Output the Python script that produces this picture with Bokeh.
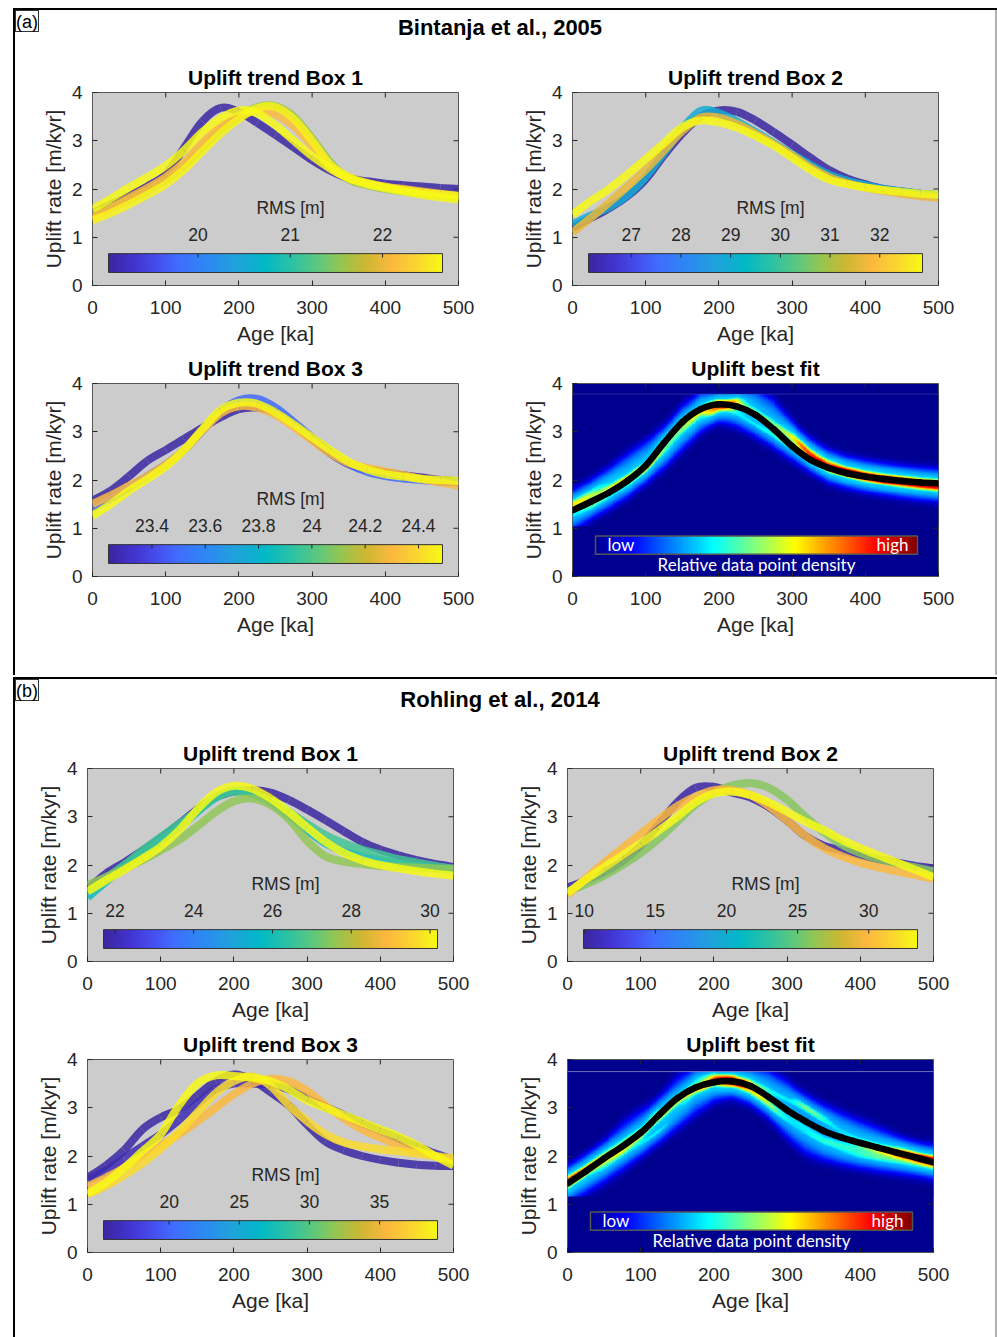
import numpy as np
from bokeh.plotting import figure
from bokeh.models import Range1d, FixedTicker, LinearColorMapper, Div, Span, Spacer
from bokeh.layouts import row, column
from bokeh.embed import file_html
from bokeh.resources import INLINE
from bokeh.core.properties import value

# ---------------- data ----------------
AGE = [0, 25, 50, 75, 100, 125, 150, 175, 200, 225, 250, 275, 300, 325, 350, 375, 400, 425, 450, 475, 500]
X_TICKS = [0, 100, 200, 300, 400, 500]
Y_TICKS = [0, 1, 2, 3, 4]

# (a) Bintanja et al., 2005 -- Box 1
A1_RMS_LIM = [19.03, 22.65]
A1_RMS_TICKS = [20, 21, 22]
A1_RMS = [19.05, 21.56, 22.14, 22.60, 22.65]
A1_C1 = [1.50, 1.68, 1.86, 2.06, 2.30, 2.85, 3.40, 3.68, 3.60, 3.37, 3.12, 2.86, 2.60, 2.38, 2.22, 2.16, 2.11, 2.08, 2.05, 2.02, 2.00]
A1_C2 = [1.48, 1.62, 1.78, 1.97, 2.20, 2.48, 2.85, 3.22, 3.50, 3.70, 3.72, 3.50, 3.05, 2.55, 2.20, 2.08, 2.00, 1.95, 1.90, 1.86, 1.82]
A1_C3 = [1.40, 1.60, 1.82, 2.02, 2.25, 2.55, 2.95, 3.30, 3.52, 3.62, 3.55, 3.30, 2.90, 2.45, 2.22, 2.12, 2.05, 2.00, 1.95, 1.90, 1.85]
A1_C4 = [1.35, 1.50, 1.68, 1.88, 2.10, 2.40, 2.78, 3.15, 3.45, 3.68, 3.70, 3.45, 3.00, 2.50, 2.25, 2.12, 2.04, 1.98, 1.93, 1.89, 1.86]
A1_C5 = [1.58, 1.80, 2.03, 2.25, 2.48, 2.80, 3.18, 3.47, 3.63, 3.57, 3.32, 3.00, 2.68, 2.42, 2.22, 2.10, 2.02, 1.95, 1.88, 1.83, 1.78]

# (a) Box 2
A2_RMS_LIM = [26.14, 32.86]
A2_RMS_TICKS = [27, 28, 29, 30, 31, 32]
A2_RMS = [26.15, 28.96, 31.65, 32.85]
A2_C1 = [1.20, 1.40, 1.60, 1.85, 2.20, 2.70, 3.15, 3.50, 3.63, 3.60, 3.42, 3.18, 2.92, 2.65, 2.40, 2.22, 2.10, 2.00, 1.95, 1.90, 1.87]
A2_C2 = [1.27, 1.45, 1.62, 1.87, 2.25, 2.75, 3.25, 3.62, 3.57, 3.40, 3.18, 2.95, 2.72, 2.50, 2.30, 2.17, 2.08, 2.00, 1.95, 1.90, 1.87]
A2_C3 = [1.10, 1.40, 1.72, 2.05, 2.40, 2.80, 3.20, 3.48, 3.48, 3.35, 3.15, 2.93, 2.70, 2.45, 2.25, 2.12, 2.03, 1.96, 1.90, 1.85, 1.82]
A2_C4 = [1.47, 1.75, 2.00, 2.30, 2.62, 2.95, 3.28, 3.42, 3.38, 3.27, 3.10, 2.90, 2.65, 2.40, 2.20, 2.10, 2.03, 1.98, 1.94, 1.90, 1.88]

# (a) Box 3
A3_RMS_LIM = [23.237, 24.49]
A3_RMS_TICKS = [23.4, 23.6, 23.8, 24.0, 24.2, 24.4]
A3_RMS = [23.24, 23.49, 24.30, 24.49]
A3_C1 = [1.57, 1.78, 2.08, 2.40, 2.62, 2.85, 3.08, 3.30, 3.47, 3.50, 3.40, 3.15, 2.85, 2.55, 2.33, 2.22, 2.15, 2.10, 2.05, 2.00, 1.97]
A3_C2 = [1.42, 1.62, 1.85, 2.08, 2.32, 2.62, 3.02, 3.42, 3.65, 3.68, 3.50, 3.20, 2.88, 2.58, 2.33, 2.17, 2.08, 2.03, 2.00, 1.97, 1.95]
A3_C3 = [1.50, 1.68, 1.88, 2.08, 2.32, 2.62, 3.02, 3.38, 3.53, 3.50, 3.35, 3.10, 2.82, 2.55, 2.35, 2.25, 2.18, 2.10, 2.02, 1.95, 1.88]
A3_C4 = [1.26, 1.50, 1.78, 2.02, 2.28, 2.62, 3.05, 3.45, 3.60, 3.58, 3.40, 3.15, 2.88, 2.62, 2.38, 2.22, 2.12, 2.07, 2.02, 2.00, 1.98]

# (a) best fit
A_BEST = [1.37, 1.55, 1.74, 1.98, 2.30, 2.77, 3.20, 3.47, 3.57, 3.52, 3.35, 3.05, 2.70, 2.42, 2.25, 2.14, 2.07, 2.02, 1.98, 1.95, 1.93]
A_DENS_YLIM = [1.04, 3.78]

# (b) Rohling et al., 2014 -- Box 1
B1_RMS_LIM = [21.71, 30.19]
B1_RMS_TICKS = [22, 24, 26, 28, 30]
B1_RMS = [21.72, 25.95, 26.63, 27.56, 30.19]
B1_C1 = [1.50, 1.82, 2.05, 2.30, 2.55, 2.85, 3.15, 3.40, 3.52, 3.55, 3.50, 3.35, 3.15, 2.93, 2.70, 2.48, 2.32, 2.20, 2.10, 2.02, 1.96]
B1_C2 = [1.33, 1.65, 1.95, 2.25, 2.50, 2.78, 3.10, 3.40, 3.55, 3.48, 3.30, 3.02, 2.72, 2.45, 2.28, 2.18, 2.10, 2.03, 1.98, 1.93, 1.90]
B1_C3 = [1.45, 1.72, 2.00, 2.30, 2.58, 2.85, 3.12, 3.40, 3.52, 3.48, 3.32, 3.10, 2.85, 2.62, 2.45, 2.32, 2.22, 2.12, 2.05, 1.98, 1.92]
B1_C4 = [1.58, 1.75, 1.92, 2.10, 2.30, 2.52, 2.80, 3.10, 3.32, 3.38, 3.25, 2.95, 2.50, 2.18, 2.07, 2.02, 1.98, 1.96, 1.95, 1.93, 1.92]
B1_C5 = [1.45, 1.68, 1.90, 2.13, 2.38, 2.72, 3.15, 3.50, 3.64, 3.58, 3.38, 3.10, 2.78, 2.48, 2.25, 2.10, 2.00, 1.93, 1.87, 1.82, 1.78]

# (b) Box 2
B2_RMS_LIM = [9.95, 33.43]
B2_RMS_TICKS = [10, 15, 20, 25, 30]
B2_RMS = [10.1, 25.9, 29.9, 33.4]
B2_C1 = [1.53, 1.68, 1.85, 2.08, 2.40, 2.85, 3.30, 3.60, 3.62, 3.50, 3.40, 3.20, 2.92, 2.60, 2.40, 2.30, 2.20, 2.12, 2.05, 1.98, 1.93]
B2_C2 = [1.45, 1.60, 1.78, 2.00, 2.25, 2.55, 2.90, 3.25, 3.50, 3.65, 3.70, 3.60, 3.35, 3.00, 2.68, 2.42, 2.25, 2.12, 2.03, 1.95, 1.87]
B2_C3 = [1.38, 1.72, 2.05, 2.35, 2.65, 2.95, 3.22, 3.42, 3.55, 3.55, 3.45, 3.22, 2.92, 2.60, 2.35, 2.18, 2.05, 1.95, 1.87, 1.79, 1.72]
B2_C4 = [1.42, 1.70, 1.95, 2.20, 2.45, 2.72, 3.00, 3.30, 3.48, 3.52, 3.45, 3.30, 3.10, 2.90, 2.72, 2.52, 2.35, 2.20, 2.05, 1.90, 1.75]

# (b) Box 3
B3_RMS_LIM = [15.32, 39.13]
B3_RMS_TICKS = [20, 25, 30, 35]
B3_RMS = [15.4, 16.0, 35.6, 37.5, 39.1]
B3_C1 = [1.55, 1.80, 2.12, 2.55, 2.80, 2.97, 3.25, 3.55, 3.69, 3.58, 3.32, 3.05, 2.65, 2.30, 2.12, 2.00, 1.92, 1.86, 1.82, 1.80, 1.79]
B3_C2 = [1.50, 1.70, 1.95, 2.20, 2.45, 2.75, 3.08, 3.38, 3.50, 3.50, 3.48, 3.38, 3.20, 3.02, 2.85, 2.68, 2.52, 2.36, 2.20, 2.05, 1.92]
B3_C3 = [1.37, 1.55, 1.75, 2.00, 2.22, 2.45, 2.72, 3.00, 3.28, 3.50, 3.60, 3.55, 3.35, 3.05, 2.78, 2.55, 2.38, 2.22, 2.10, 2.00, 1.90]
B3_C4 = [1.20, 1.38, 1.60, 1.85, 2.15, 2.50, 2.90, 3.30, 3.55, 3.65, 3.45, 3.05, 2.72, 2.45, 2.28, 2.20, 2.14, 2.10, 2.05, 2.00, 1.95]
B3_C5 = [1.22, 1.45, 1.75, 2.10, 2.45, 3.05, 3.50, 3.67, 3.66, 3.62, 3.55, 3.38, 3.15, 3.00, 2.85, 2.70, 2.55, 2.40, 2.22, 2.00, 1.80]

# (b) best fit
B_BEST = [1.43, 1.68, 1.95, 2.20, 2.48, 2.85, 3.20, 3.42, 3.53, 3.55, 3.45, 3.22, 2.95, 2.72, 2.52, 2.38, 2.27, 2.17, 2.07, 1.97, 1.87]
B_DENS_YLIM = [1.16, 3.75]

# ---------------- palettes ----------------
def make_palette(keys, n=256):
    ts = [k[0] for k in keys]
    rgb = np.array([[int(k[1][i:i + 2], 16) for i in (1, 3, 5)] for k in keys], dtype=float)
    out = []
    for t in np.linspace(0, 1, n):
        c = [int(round(np.interp(t, ts, rgb[:, j]))) for j in range(3)]
        out.append("#%02x%02x%02x" % tuple(c))
    return out

PARULA = make_palette([
    (0.00, "#3a26a0"), (0.08, "#4334d2"), (0.15, "#4650f0"), (0.21, "#3f6eff"),
    (0.30, "#2c8af2"), (0.38, "#20a2dc"), (0.47, "#02b9c6"), (0.55, "#2cc2a4"),
    (0.63, "#5ec87c"), (0.70, "#98c550"), (0.77, "#cdb733"), (0.85, "#fcb83e"),
    (0.91, "#fbcf33"), (1.00, "#f7f916")])
JET = make_palette([
    (0.0, "#00008f"), (0.111, "#0000ff"), (0.365, "#00ffff"), (0.619, "#ffff00"),
    (0.873, "#ff0000"), (1.0, "#800000")])

FONT = "Liberation Sans"
TXT = "#262626"
CB_Y = [0.27, 0.66]
FRAME_W, FRAME_H = 366, 193
TICK_LEN = 5  # px


def pal_color(v, lim):
    t = (v - lim[0]) / (lim[1] - lim[0])
    return PARULA[int(round(min(max(t, 0), 1) * 255))]


def smooth_curve(p, xs, ys, **kw):
    """Draw a curve through the listed points as a smooth (Catmull-Rom) spline."""
    P = np.column_stack([xs, ys]).astype(float)
    Q = np.vstack([P[0], P, P[-1]])
    p0, p1, p2, p3 = Q[:-3], Q[1:-2], Q[2:-1], Q[3:]
    c0 = p1 + (p2 - p0) / 6.0
    c1 = p2 - (p3 - p1) / 6.0
    p.bezier(x0=p1[:, 0], y0=p1[:, 1], x1=p2[:, 0], y1=p2[:, 1],
             cx0=c0[:, 0], cy0=c0[:, 1], cx1=c1[:, 0], cy1=c1[:, 1], **kw)


def make_fig(title, left, right, bg="#cccccc"):
    p = figure(frame_width=FRAME_W, frame_height=FRAME_H,
               min_border_left=left, min_border_right=right,
               min_border_top=31, min_border_bottom=66,
               x_range=Range1d(0, 500), y_range=Range1d(0, 4),
               output_backend="svg", toolbar_location=None,
               background_fill_color=bg, border_fill_color="white",
               outline_line_color="#555555", outline_line_width=1, title=title)
    p.title.align = "center"
    p.title.text_font = FONT
    p.title.text_font_size = "21px"
    p.title.text_font_style = "bold"
    p.title.text_color = "black"
    p.title.standoff = 7
    p.xgrid.visible = False
    p.ygrid.visible = False
    p.xaxis.ticker = FixedTicker(ticks=X_TICKS)
    p.yaxis.ticker = FixedTicker(ticks=Y_TICKS)
    p.xaxis.axis_label = "Age [ka]"
    p.yaxis.axis_label = "Uplift rate [m/kyr]"
    for ax in (p.xaxis[0], p.yaxis[0]):
        ax.axis_line_color = None
        ax.major_tick_in = TICK_LEN
        ax.major_tick_out = 0
        ax.major_tick_line_color = TXT
        ax.minor_tick_line_color = None
        ax.major_label_text_font = FONT
        ax.major_label_text_font_size = "19px"
        ax.major_label_text_color = TXT
        ax.axis_label_text_font = FONT
        ax.axis_label_text_font_size = "21px"
        ax.axis_label_text_font_style = "normal"
        ax.axis_label_text_color = TXT
    p.xaxis.major_label_standoff = 15
    p.xaxis.axis_label_standoff = 5
    p.yaxis.major_label_standoff = 10
    p.yaxis.axis_label_standoff = 4
    # mirrored ticks on the top and right edges of the box
    dy = TICK_LEN * 4.0 / FRAME_H
    dx = TICK_LEN * 500.0 / FRAME_W
    xt = X_TICKS[1:-1]
    yt = Y_TICKS[1:-1]
    p.segment(x0=xt, x1=xt, y0=[4] * len(xt), y1=[4 - dy] * len(xt), line_color=TXT, line_width=1)
    p.segment(x0=[500] * len(yt), x1=[500 - dx] * len(yt), y0=yt, y1=yt, line_color=TXT, line_width=1)
    return p


def trend_panel(title, left, right, lim, ticks, rms, curves):
    p = make_fig(title, left, right)
    for r, c in zip(rms, curves):
        smooth_curve(p, AGE, c, line_color=pal_color(r, lim), line_width=8, line_alpha=0.85,
                     line_cap="butt")
    lo, hi = lim
    sc = (hi - lo) / 334.0
    p.extra_x_ranges = {"rms": Range1d(lo - 16 * sc, hi + 16 * sc)}
    grad = np.linspace(lo, hi, 256)[None, :]
    p.image(image=[grad], x=lo, y=CB_Y[0], dw=hi - lo, dh=CB_Y[1] - CB_Y[0],
            color_mapper=LinearColorMapper(palette=PARULA, low=lo, high=hi),
            x_range_name="rms")
    p.quad(left=[lo], right=[hi], bottom=[CB_Y[0]], top=[CB_Y[1]], fill_color=None,
           line_color="#333333", line_width=1, x_range_name="rms")
    n = len(ticks)
    p.segment(x0=ticks, x1=ticks, y0=[CB_Y[1]] * n, y1=[CB_Y[1] - 0.08] * n,
              line_color=TXT, line_width=1, x_range_name="rms")
    p.text(x=ticks, y=[1.06] * n, text=["%g" % t for t in ticks],
           text_font=value(FONT), text_font_size="17.5px", text_color=TXT,
           text_align="center", text_baseline="middle", x_range_name="rms")
    p.text(x=[(lo + hi) / 2 + 15 * sc], y=[1.6], text=["RMS [m]"],
           text_font=value(FONT), text_font_size="17.5px", text_color=TXT,
           text_align="center", text_baseline="middle", x_range_name="rms")
    return p


def kde(curves, xs, ys, s):
    d = np.zeros((len(ys), len(xs)))
    for c in curves:
        yc = np.interp(xs, AGE, c)
        d += np.exp(-0.5 * ((ys[:, None] - yc[None, :]) / s) ** 2)
    return d / d.max()


def density(curves, ylim, nx=250, ny=280):
    xs = np.linspace(0, 500, nx)
    ys = np.linspace(ylim[0], ylim[1], ny)
    broad = kde(curves, xs, ys, 0.14)    # overall spread of the trends
    narrow = kde(curves, xs, ys, 0.07)   # places where the trends pile up
    hot = np.clip((narrow - 0.3) / 0.5, 0, 1)
    return 0.33 * (1.0 - np.exp(-broad / 0.2)) + 0.55 * hot


def best_panel(left, right, best, curves, ylim, edge_alpha):
    p = make_fig("Uplift best fit", left, right, bg=JET[0])
    d = density(curves, ylim)
    p.image(image=[d], x=0, y=ylim[0], dw=500, dh=ylim[1] - ylim[0],
            color_mapper=LinearColorMapper(palette=JET, low=0, high=1))
    p.add_layout(Span(location=ylim[1], dimension="width", line_color="#a0a0c0",
                      line_width=1, line_alpha=edge_alpha))
    smooth_curve(p, AGE, best, line_color="black", line_width=6.5, line_cap="round")
    p.extra_x_ranges = {"dens": Range1d(-23 / 322.0, 1 + 21 / 322.0)}
    grad = np.linspace(0, 1, 256)[None, :]
    p.image(image=[grad], x=0, y=0.46, dw=1, dh=0.38,
            color_mapper=LinearColorMapper(palette=JET, low=0, high=1), x_range_name="dens")
    p.quad(left=[0], right=[1], bottom=[0.46], top=[0.84], fill_color=None,
           line_color="#555555", line_width=1.5, x_range_name="dens")
    p.text(x=[0.037], y=[0.66], text=["low"], text_font=value("Lato"), text_font_size="17px",
           text_color="white", text_align="left", text_baseline="middle", x_range_name="dens")
    p.text(x=[0.972], y=[0.66], text=["high"], text_font=value("Lato"), text_font_size="17px",
           text_color="white", text_align="right", text_baseline="middle", x_range_name="dens")
    p.text(x=[0.5], y=[0.24], text=["Relative data point density"], text_font=value("Lato"),
           text_font_size="17px", text_color="white", text_align="center",
           text_baseline="middle", x_range_name="dens")
    return p


def header(label, title, height, title_top):
    html = ('<div style="position:relative;width:980px;height:%dpx;">'
            '<div style="position:absolute;left:0px;top:0px;width:24px;height:22px;'
            'border:1px solid #333;font-family:\'Liberation Sans\';font-size:18px;'
            'line-height:22px;text-align:center;color:#000;">%s</div>'
            '<div style="position:absolute;left:0px;top:%dpx;width:970px;text-align:center;'
            'font-family:\'Liberation Sans\';font-size:22px;font-weight:bold;line-height:26px;'
            'color:#000;">%s</div></div>') % (height, label, title_top, title)
    return Div(text=html, width=980, height=height, margin=0)


def hline(w):
    return Div(text="", width=w, height=2, margin=0, styles={"background-color": "#000000"})


def vline(h, color="#000000"):
    return Div(text="", width=2, height=h, margin=0, styles={"background-color": color})


# ---------------- section (a) ----------------
A_CURVES = [A1_C1, A1_C2, A1_C3, A1_C4, A1_C5, A2_C1, A2_C2, A2_C3, A2_C4, A3_C1, A3_C2, A3_C3, A3_C4]
pa1 = trend_panel("Uplift trend Box 1", 77, 37, A1_RMS_LIM, A1_RMS_TICKS, A1_RMS,
                  [A1_C1, A1_C2, A1_C3, A1_C4, A1_C5])
pa2 = trend_panel("Uplift trend Box 2", 77, 57, A2_RMS_LIM, A2_RMS_TICKS, A2_RMS,
                  [A2_C1, A2_C2, A2_C3, A2_C4])
pa3 = trend_panel("Uplift trend Box 3", 77, 37, A3_RMS_LIM, A3_RMS_TICKS, A3_RMS,
                  [A3_C1, A3_C2, A3_C3, A3_C4])
pa4 = best_panel(77, 57, A_BEST, A_CURVES, A_DENS_YLIM, 0.25)
content_a = column(header("(a)", "Bintanja et al., 2005", 50, 5),
                   row(pa1, pa2), row(pa3, pa4), Spacer(width=980, height=35))

# ---------------- section (b) ----------------
B_CURVES = [B1_C1, B1_C2, B1_C3, B1_C4, B1_C5, B2_C1, B2_C2, B2_C3, B2_C4,
            B3_C1, B3_C2, B3_C3, B3_C4, B3_C5]
pb1 = trend_panel("Uplift trend Box 1", 72, 42, B1_RMS_LIM, B1_RMS_TICKS, B1_RMS,
                  [B1_C1, B1_C2, B1_C3, B1_C4, B1_C5])
pb2 = trend_panel("Uplift trend Box 2", 72, 62, B2_RMS_LIM, B2_RMS_TICKS, B2_RMS,
                  [B2_C1, B2_C2, B2_C3, B2_C4])
pb3 = trend_panel("Uplift trend Box 3", 72, 42, B3_RMS_LIM, B3_RMS_TICKS, B3_RMS,
                  [B3_C1, B3_C2, B3_C3, B3_C4, B3_C5])
pb4 = best_panel(72, 62, B_BEST, B_CURVES, B_DENS_YLIM, 0.7)
content_b = column(header("(b)", "Rohling et al., 2014", 57, 8),
                   row(pb1, pb2), row(pb3, pb4), Spacer(width=980, height=23))

main = column(Spacer(width=984, height=8), hline(984),
              row(vline(665), content_a, vline(665, "#b0b0b0")),
              hline(984),
              row(vline(660), content_b, vline(660, "#b0b0b0")))
layout = row(Spacer(width=13, height=1337), main)

open("out.html", "w").write(file_html(layout, INLINE))
